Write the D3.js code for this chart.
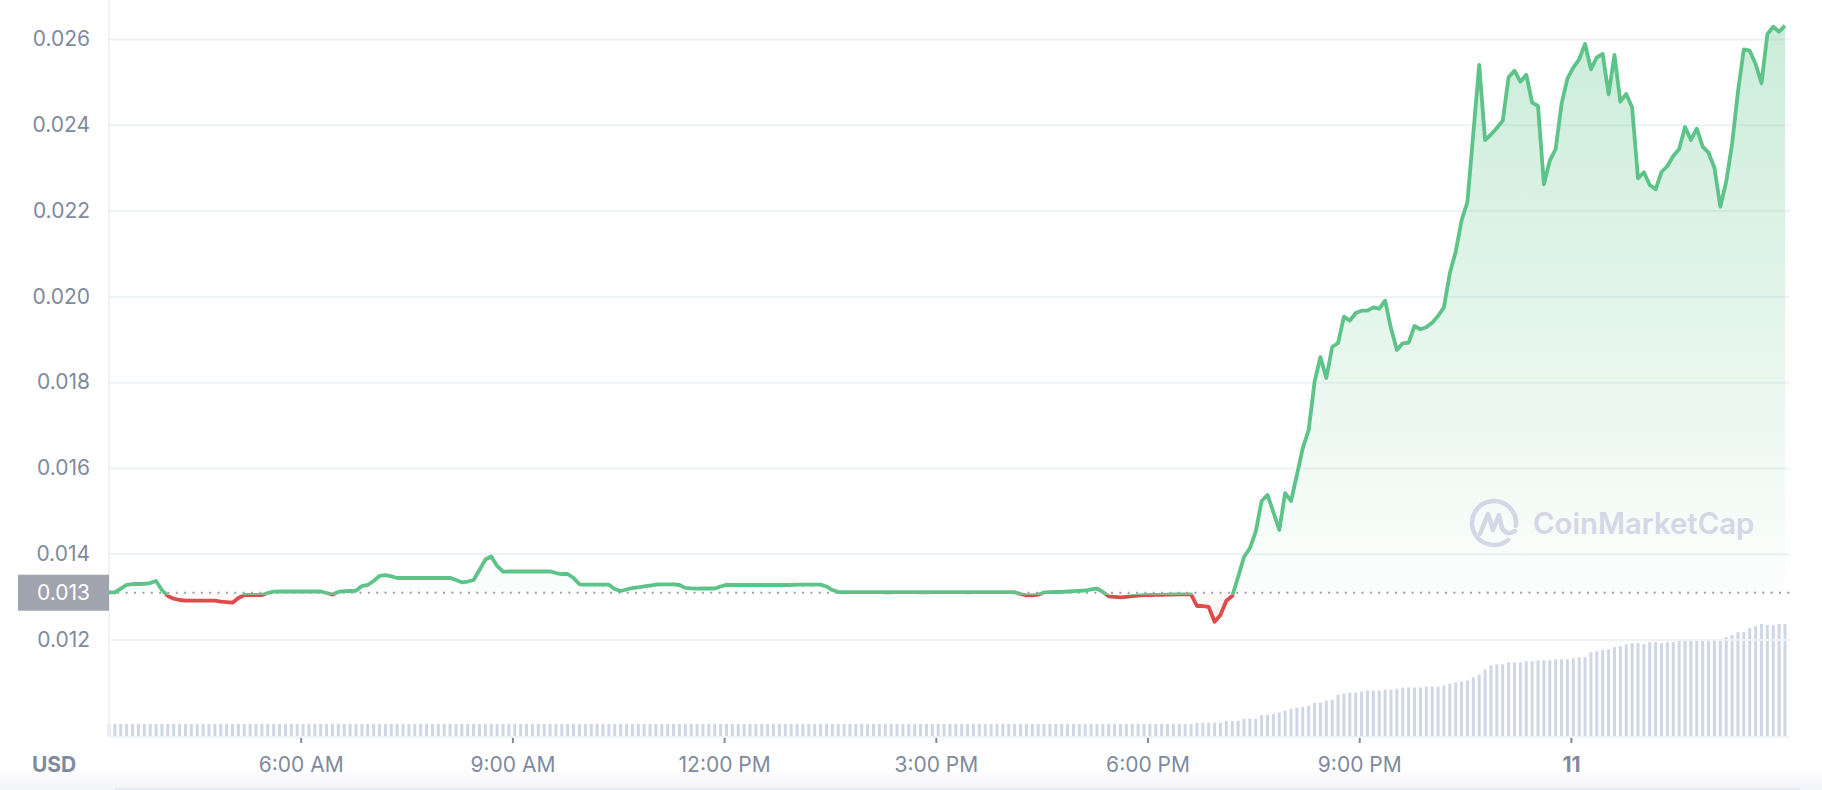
<!DOCTYPE html>
<html><head><meta charset="utf-8">
<script src="https://cdn.jsdelivr.net/npm/d3@7"></script>
<style>
html,body{margin:0;padding:0;background:#fff;}
svg{display:block;font-family:Inter,"Noto Sans",sans-serif;}
</style>
</head><body>
<svg id="chart" width="1822" height="790"></svg>
<script>
// ---------------- data ----------------
const startTime = "2023-03-10T03:17:00";
const stepMinutes = 5;
const openPrice = 0.013093;
const currency = "USD";
const watermarkText = "CoinMarketCap";

const price = [
0.013100,0.013100,0.013191,0.013273,0.013296,0.013296,0.013301,0.013319,0.013366,0.013156,
0.013016,0.012953,0.012923,0.012907,0.012907,0.012907,0.012907,0.012907,0.012907,0.012884,
0.012872,0.012860,0.012970,0.013040,0.013040,0.013040,0.013040,0.013086,0.013119,0.013121,
0.013121,0.013121,0.013121,0.013121,0.013121,0.013121,0.013121,0.013086,0.013051,0.013110,
0.013128,0.013133,0.013138,0.013249,0.013273,0.013366,0.013483,0.013501,0.013476,0.013436,
0.013436,0.013436,0.013436,0.013436,0.013436,0.013436,0.013436,0.013436,0.013441,0.013389,
0.013336,0.013354,0.013389,0.013622,0.013867,0.013937,0.013716,0.013585,0.013587,0.013587,
0.013587,0.013587,0.013587,0.013587,0.013587,0.013592,0.013552,0.013529,0.013529,0.013436,
0.013289,0.013280,0.013280,0.013280,0.013280,0.013280,0.013179,0.013133,0.013168,0.013203,
0.013219,0.013238,0.013261,0.013284,0.013289,0.013289,0.013289,0.013273,0.013205,0.013196,
0.013187,0.013191,0.013191,0.013191,0.013238,0.013277,0.013273,0.013273,0.013273,0.013273,
0.013273,0.013273,0.013273,0.013273,0.013273,0.013273,0.013273,0.013280,0.013280,0.013280,
0.013280,0.013280,0.013238,0.013156,0.013108,0.013108,0.013108,0.013108,0.013108,0.013108,
0.013108,0.013108,0.013104,0.013104,0.013108,0.013108,0.013108,0.013108,0.013104,0.013104,
0.013108,0.013108,0.013108,0.013108,0.013108,0.013108,0.013104,0.013108,0.013108,0.013108,
0.013108,0.013108,0.013108,0.013108,0.013104,0.013063,0.013033,0.013033,0.013047,0.013100,
0.013105,0.013110,0.013114,0.013121,0.013128,0.013138,0.013144,0.013168,0.013191,0.013110,
0.013009,0.012998,0.012986,0.012998,0.013012,0.013023,0.013037,0.013040,0.013042,0.013044,
0.013049,0.013051,0.013054,0.013056,0.013056,0.012783,0.012783,0.012760,0.012417,0.012573,
0.012907,0.013016,0.013459,0.013925,0.014128,0.014515,0.015231,0.015371,0.014974,0.014555,
0.015417,0.015231,0.015837,0.016466,0.016886,0.018005,0.018587,0.018098,0.018821,0.018914,
0.019527,0.019434,0.019613,0.019667,0.019667,0.019746,0.019713,0.019900,0.019256,0.018751,
0.018907,0.018921,0.019310,0.019233,0.019280,0.019387,0.019543,0.019746,0.020538,0.021042,
0.021765,0.022207,0.023802,0.025394,0.023646,0.023774,0.023925,0.024096,0.025107,0.025261,
0.025005,0.025168,0.024515,0.024438,0.022613,0.023163,0.023436,0.024485,0.025075,0.025331,
0.025527,0.025883,0.025294,0.025573,0.025650,0.024711,0.025627,0.024538,0.024718,0.024408,
0.022753,0.022893,0.022597,0.022497,0.022900,0.023040,0.023273,0.023436,0.023949,0.023646,
0.023909,0.023490,0.023350,0.023000,0.022091,0.022674,0.023552,0.024772,0.025760,0.025727,
0.025417,0.024967,0.026110,0.026287,0.026170,0.026310
];

// 24h volume (millions USD)
const volume = [
1.2,1.2,1.2,1.2,1.2,1.2,1.2,1.2,1.2,1.2, 1.2,1.2,1.2,1.2,1.2,1.2,1.2,1.2,1.2,1.2,
1.2,1.2,1.2,1.2,1.2,1.2,1.2,1.2,1.2,1.2, 1.2,1.2,1.2,1.2,1.2,1.2,1.2,1.2,1.2,1.2,
1.2,1.2,1.2,1.2,1.2,1.2,1.2,1.2,1.2,1.2, 1.2,1.2,1.2,1.2,1.2,1.2,1.2,1.2,1.2,1.2,
1.2,1.2,1.2,1.2,1.2,1.2,1.2,1.2,1.2,1.2, 1.2,1.2,1.2,1.2,1.2,1.2,1.2,1.2,1.2,1.2,
1.2,1.2,1.2,1.2,1.2,1.2,1.2,1.2,1.2,1.2, 1.2,1.2,1.2,1.2,1.2,1.2,1.2,1.2,1.2,1.2,
1.2,1.2,1.2,1.2,1.2,1.2,1.2,1.2,1.2,1.2, 1.2,1.2,1.2,1.2,1.2,1.2,1.2,1.2,1.2,1.2,
1.2,1.2,1.2,1.2,1.2,1.2,1.2,1.2,1.2,1.2, 1.2,1.2,1.2,1.2,1.2,1.2,1.2,1.2,1.2,1.2,
1.2,1.2,1.2,1.2,1.2,1.2,1.2,1.2,1.2,1.2, 1.2,1.2,1.2,1.2,1.2,1.2,1.2,1.2,1.2,1.2,
1.2,1.2,1.2,1.2,1.2,1.2,1.2,1.2,1.2,1.2, 1.2,1.2,1.2,1.2,1.2,1.2,1.2,1.2,1.2,1.2,
1.2,1.2,1.2,1.2,1.2,1.3,1.3,1.3,1.3,1.3,
1.5,1.5,1.5,1.7,1.7,1.7,2.07,2.07,2.2,2.33,
2.5,2.7,2.8,2.9,3.0,3.3,3.3,3.5,3.6,4.1,
4.2,4.3,4.3,4.4,4.5,4.5,4.5,4.6,4.6,4.7,
4.8,4.8,4.8,4.8,4.9,4.9,4.9,5.0,5.2,5.3,
5.4,5.5,5.8,6.1,6.6,7.0,7.1,7.1,7.3,7.3,
7.3,7.4,7.4,7.5,7.5,7.5,7.6,7.6,7.6,7.7,
7.8,7.8,8.3,8.4,8.5,8.6,8.8,8.9,9.1,9.2,
9.2,9.1,9.3,9.3,9.2,9.3,9.3,9.4,9.6,9.6,
9.6,9.6,9.6,9.6,9.6,9.8,10.0,10.3,10.3,10.7,
10.9,11.1,11.0,11.0,11.1,11.1
];

const yTicks = [0.012, 0.014, 0.016, 0.018, 0.020, 0.022, 0.024, 0.026];
const xTickTimes = ["2023-03-10T06:00:00","2023-03-10T09:00:00","2023-03-10T12:00:00",
                    "2023-03-10T15:00:00","2023-03-10T18:00:00","2023-03-10T21:00:00","2023-03-11T00:00:00"];
const xTickLabels = ["6:00 AM","9:00 AM","12:00 PM","3:00 PM","6:00 PM","9:00 PM","11"];

// ---------------- chart ----------------
const GREEN = "#5cc489", RED = "#df4a4a", GRID = "#eff2f5", TXT = "#808a9d";
const svg = d3.select("#chart");
const t0 = new Date(startTime);
const times = price.map((_, i) => new Date(t0.getTime() + i * stepMinutes * 60000));

const left = 109, right = 1790, plotEnd = 1785, bottom = 737;
const x = d3.scaleTime().domain([times[0], times[times.length - 1]]).range([left, plotEnd]);
const y = d3.scaleLinear().domain([0.012, 0.026]).range([639.6, 39]);
const yv = d3.scaleLinear().domain([0, 11.1]).range([736, 624]);
const yOpen = y(openPrice);
const ySplit = yOpen + 2; // colour split for the stroke

const defs = svg.append("defs");
const gUp = defs.append("linearGradient").attr("id", "gUp").attr("gradientUnits", "userSpaceOnUse")
  .attr("x1", 0).attr("x2", 0).attr("y1", 25).attr("y2", yOpen);
gUp.append("stop").attr("offset", 0).attr("stop-color", GREEN).attr("stop-opacity", 0.32);
gUp.append("stop").attr("offset", 1).attr("stop-color", GREEN).attr("stop-opacity", 0.02);
const gDn = defs.append("linearGradient").attr("id", "gDn").attr("gradientUnits", "userSpaceOnUse")
  .attr("x1", 0).attr("x2", 0).attr("y1", yOpen).attr("y2", 640);
gDn.append("stop").attr("offset", 0).attr("stop-color", RED).attr("stop-opacity", 0.02);
gDn.append("stop").attr("offset", 1).attr("stop-color", RED).attr("stop-opacity", 0.12);
defs.append("clipPath").attr("id", "above").append("rect")
  .attr("x", 0).attr("y", 0).attr("width", 1822).attr("height", yOpen);
defs.append("clipPath").attr("id", "below").append("rect")
  .attr("x", 0).attr("y", yOpen).attr("width", 1822).attr("height", 790 - yOpen);
defs.append("clipPath").attr("id", "lineAbove").append("rect")
  .attr("x", 0).attr("y", 0).attr("width", 1822).attr("height", ySplit);
defs.append("clipPath").attr("id", "lineBelow").append("rect")
  .attr("x", 0).attr("y", ySplit).attr("width", 1822).attr("height", 790 - ySplit);
const gBot = defs.append("linearGradient").attr("id", "gBot").attr("x1", 0).attr("x2", 0).attr("y1", 0).attr("y2", 1);
gBot.append("stop").attr("offset", 0).attr("stop-color", "#ffffff");
gBot.append("stop").attr("offset", 1).attr("stop-color", "#f3f4f7");

// bottom panel shading
svg.append("rect").attr("x", 0).attr("y", 768).attr("width", 1822).attr("height", 22).attr("fill", "url(#gBot)");
svg.append("line").attr("x1", 115).attr("x2", 1800).attr("y1", 789).attr("y2", 789)
  .attr("stroke", "#e6e9f3").attr("stroke-width", 2);

// volume bars
svg.append("g").selectAll("rect").data(volume).join("rect")
  .attr("x", (d, i) => x(times[i]) - 1.5).attr("width", 3)
  .attr("y", d => yv(d)).attr("height", d => yv(0) - yv(d))
  .attr("fill", "#cfd6e4");

// gridlines
const grid = svg.append("g").attr("transform", `translate(${left},0)`)
  .call(d3.axisLeft(y).tickValues(yTicks).tickSize(-(right - left)).tickFormat(""));
grid.select(".domain").remove();
grid.selectAll(".tick line").attr("stroke", GRID).attr("stroke-width", 2);

// y labels
const yAxis = svg.append("g").attr("transform", `translate(${left},0)`)
  .call(d3.axisLeft(y).tickValues(yTicks).tickSize(0).tickPadding(19).tickFormat(d3.format(".3f")));
yAxis.select(".domain").remove();
yAxis.selectAll("text").attr("fill", TXT).style("font-size", "21px").style("font-family", "Inter, 'Noto Sans', sans-serif");

// left and bottom axis lines
svg.append("line").attr("x1", left).attr("x2", left).attr("y1", 0).attr("y2", bottom)
  .attr("stroke", GRID).attr("stroke-width", 2);
svg.append("line").attr("x1", left).attr("x2", right).attr("y1", bottom).attr("y2", bottom)
  .attr("stroke", GRID).attr("stroke-width", 2);

// areas
const area = d3.area().x((d, i) => x(times[i])).y0(yOpen).y1(d => y(d));
svg.append("path").datum(price).attr("d", area).attr("fill", "url(#gUp)").attr("clip-path", "url(#above)");
svg.append("path").datum(price).attr("d", area).attr("fill", "url(#gDn)").attr("clip-path", "url(#below)");

// watermark
const wm = svg.append("g").attr("fill", "none").attr("stroke", "#d3d7e6").attr("stroke-width", 4.5)
  .attr("stroke-linecap", "round").attr("stroke-linejoin", "round");
const cx = 1494, cy = 523, r = 22;
const arc = d3.arc().innerRadius(r).outerRadius(r).startAngle(2.45).endAngle(2.45 + 2 * Math.PI - 0.75);
wm.append("path").attr("transform", `translate(${cx},${cy})`).attr("d", arc);
wm.append("path").attr("d", `M${cx-14},${cy+11} L${cx-6},${cy-9} L${cx-1},${cy+7} L${cx+5},${cy-8} L${cx+8},${cy+5} Q${cx+12},${cy+13} ${cx+21},${cy+8}`);
svg.append("text").attr("x", 1533).attr("y", 534).text(watermarkText)
  .attr("fill", "#d3d7e6").style("font-size", "29.3px").style("font-weight", 600);

// open price dotted line
svg.append("line").attr("x1", left).attr("x2", right).attr("y1", yOpen).attr("y2", yOpen)
  .attr("stroke", "#9aa0ab").attr("stroke-width", 2).attr("stroke-dasharray", "2,6.35");

// price line
const line = d3.line().x((d, i) => x(times[i])).y(d => y(d));
svg.append("path").datum(price).attr("d", line).attr("fill", "none").attr("stroke", GREEN)
  .attr("stroke-width", 3.8).attr("stroke-linejoin", "round").attr("clip-path", "url(#lineAbove)");
svg.append("path").datum(price).attr("d", line).attr("fill", "none").attr("stroke", RED)
  .attr("stroke-width", 3.8).attr("stroke-linejoin", "round").attr("clip-path", "url(#lineBelow)");

// open price label
svg.append("rect").attr("x", 18).attr("y", yOpen - 18).attr("width", left - 18).attr("height", 36)
  .attr("fill", "#a0a4ae");
svg.append("text").attr("x", 90).attr("y", yOpen).attr("dy", "0.35em").attr("text-anchor", "end")
  .attr("fill", "#ffffff").style("font-size", "21px").text(d3.format(".3f")(openPrice));

// x axis
const tickDates = xTickTimes.map(s => new Date(s));
const xAxis = svg.append("g").attr("transform", `translate(0,${bottom})`)
  .call(d3.axisBottom(x).tickValues(tickDates).tickFormat((d, i) => xTickLabels[i]).tickSize(6).tickPadding(14));
xAxis.select(".domain").remove();
xAxis.selectAll(".tick line").attr("stroke", TXT).attr("stroke-width", 2).attr("y1", 1);
xAxis.selectAll("text").attr("fill", TXT).style("font-size", "21px")
  .style("font-family", "Inter, 'Noto Sans', sans-serif")
  .style("font-weight", d => d.getHours() === 0 ? 700 : 400);

// currency label
svg.append("text").attr("x", 32).attr("y", 772).text(currency)
  .attr("fill", TXT).style("font-size", "21px").style("font-weight", 700);
</script>
</body></html>
